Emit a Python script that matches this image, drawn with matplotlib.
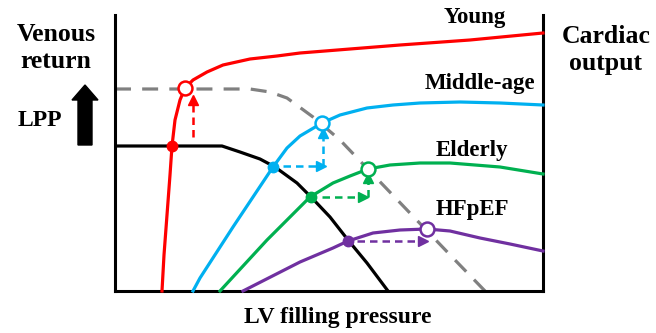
import matplotlib
matplotlib.use("Agg")
import matplotlib.pyplot as plt
from matplotlib.patches import Polygon

plt.rcParams['font.family'] = ['Liberation Serif', 'DejaVu Serif']
plt.rcParams['font.weight'] = 'bold'

# schematic curves, arbitrary units (x: LV filling pressure, y: output / return)
young_x = [47, 49, 52, 55, 57, 60, 65, 70, 78, 92, 108, 135, 162, 185, 235, 285, 355, 428]
young_y = [0, 36, 76, 116, 145, 171, 191, 203, 211, 219, 226, 232, 235, 238, 242, 246, 251, 258]

middle_x = [78, 85, 118, 158, 172, 185, 207, 225, 252, 278, 305, 345, 385, 428]
middle_y = [0, 13, 64, 124, 143, 155, 168, 176, 183, 186, 188, 189, 188, 186]

elderly_x = [105, 152, 172, 195, 218, 235, 253, 275, 305, 335, 385, 428]
elderly_y = [0, 51, 71, 94, 108, 115, 122, 126, 128, 128, 124, 117]

hfpef_x = [128, 185, 218, 233, 258, 285, 312, 335, 365, 395, 428]
hfpef_y = [0, 29, 43, 50, 58, 61, 62, 60, 53, 47, 40]

# venous return curves: baseline (black) and with LPP raised (grey dashed)
vr_x = [0, 107, 125, 145, 160, 182, 197, 215, 233, 252, 273]
vr_y = [145, 145, 139, 132, 124, 108, 93, 74, 51, 28, 0]
vr_lpp_x = [0, 135, 155, 172, 183, 198, 225, 247, 270, 293, 316, 339, 370]
vr_lpp_y = [202, 202, 199, 193, 185, 174, 151, 128, 104, 80, 56, 32, 0]

# operating points: baseline (filled) and with LPP raised (open)
base_pts = [(57, 145), (158, 124), (196, 94), (233, 50)]
lpp_pts = [(70, 203), (207, 168), (253, 122), (312, 62)]

# dashed shift arrows: (x0, y0, x1, y1)
shift_arrows = [
    ('red', [(78, 154, 78, 191)]),
    ('blue', [(168, 125, 206, 125), (208, 125, 208, 158)]),
    ('green', [(207, 94, 248, 94), (253, 94, 253, 113)]),
    ('purple', [(242, 50, 308, 50)]),
]

colors = {'red': '#FF0000', 'blue': '#00B0F0', 'green': '#00B050', 'purple': '#7030A0'}
cols = ['red', 'blue', 'green', 'purple']

fig = plt.figure(figsize=(6.56, 3.33), dpi=100, facecolor='w')
ax = fig.add_axes([115/656, 42/333, 428/656, 276/333])
ax.set_xlim(0, 428)
ax.set_ylim(0, 276)
ax.set_xticks([])
ax.set_yticks([])
ax.spines['top'].set_visible(False)
for s in ['left', 'bottom', 'right']:
    ax.spines[s].set_linewidth(2.2)

ax.plot(vr_lpp_x, vr_lpp_y, color='#808080', lw=2.3, dashes=(5, 3.5), zorder=2)
ax.plot(vr_x, vr_y, color='black', lw=2.3, zorder=3, solid_joinstyle='round')

series = [(young_x, young_y), (middle_x, middle_y), (elderly_x, elderly_y), (hfpef_x, hfpef_y)]
for (xs, ys), c in zip(series, cols):
    ax.plot(xs, ys, color=colors[c], lw=2.3, zorder=4, solid_joinstyle='round', clip_on=False)

for c, segs in shift_arrows:
    for x0, y0, x1, y1 in segs:
        ax.plot([x0, x1], [y0, y1], color=colors[c], lw=1.8, dashes=(3, 2), zorder=5)
        mk = '>' if y0 == y1 else '^'
        ax.plot([x1], [y1], marker=mk, color=colors[c], markersize=6.5, zorder=5)

for (bx, by), (ox, oy), c in zip(base_pts, lpp_pts, cols):
    ax.plot([bx], [by], 'o', color=colors[c], markersize=7.5, zorder=6)
    ax.plot([ox], [oy], 'o', markerfacecolor='white', markeredgecolor=colors[c],
            markeredgewidth=1.8, markersize=10, zorder=6)

def ft(px, py, s, size, **kw):
    fig.text(px/656, 1 - py/333, s, fontsize=size, fontweight='bold',
             ha='center', va='center', **kw)

ft(475, 18, 'Young', 16.5)
ft(480, 84, 'Middle-age', 16.5)
ft(472, 150, 'Elderly', 16.5)
ft(472, 210, 'HFpEF', 16.5)
ft(56, 48, 'Venous\nreturn', 18.5, linespacing=1.25)
ft(606, 50, 'Cardiac\noutput', 18.5, linespacing=1.25)
ft(40, 121, 'LPP', 17)
ft(338, 317, 'LV filling pressure', 17)

# big black arrow next to LPP
arrow_px = [(78, 145), (92, 145), (92, 100), (98, 100), (85, 85), (72, 100), (78, 100)]
fig.add_artist(Polygon([(x/656, 1 - y/333) for x, y in arrow_px], closed=True,
                       transform=fig.transFigure, facecolor='black', edgecolor='black'))

fig.savefig('out.png', dpi=100, facecolor='w')
